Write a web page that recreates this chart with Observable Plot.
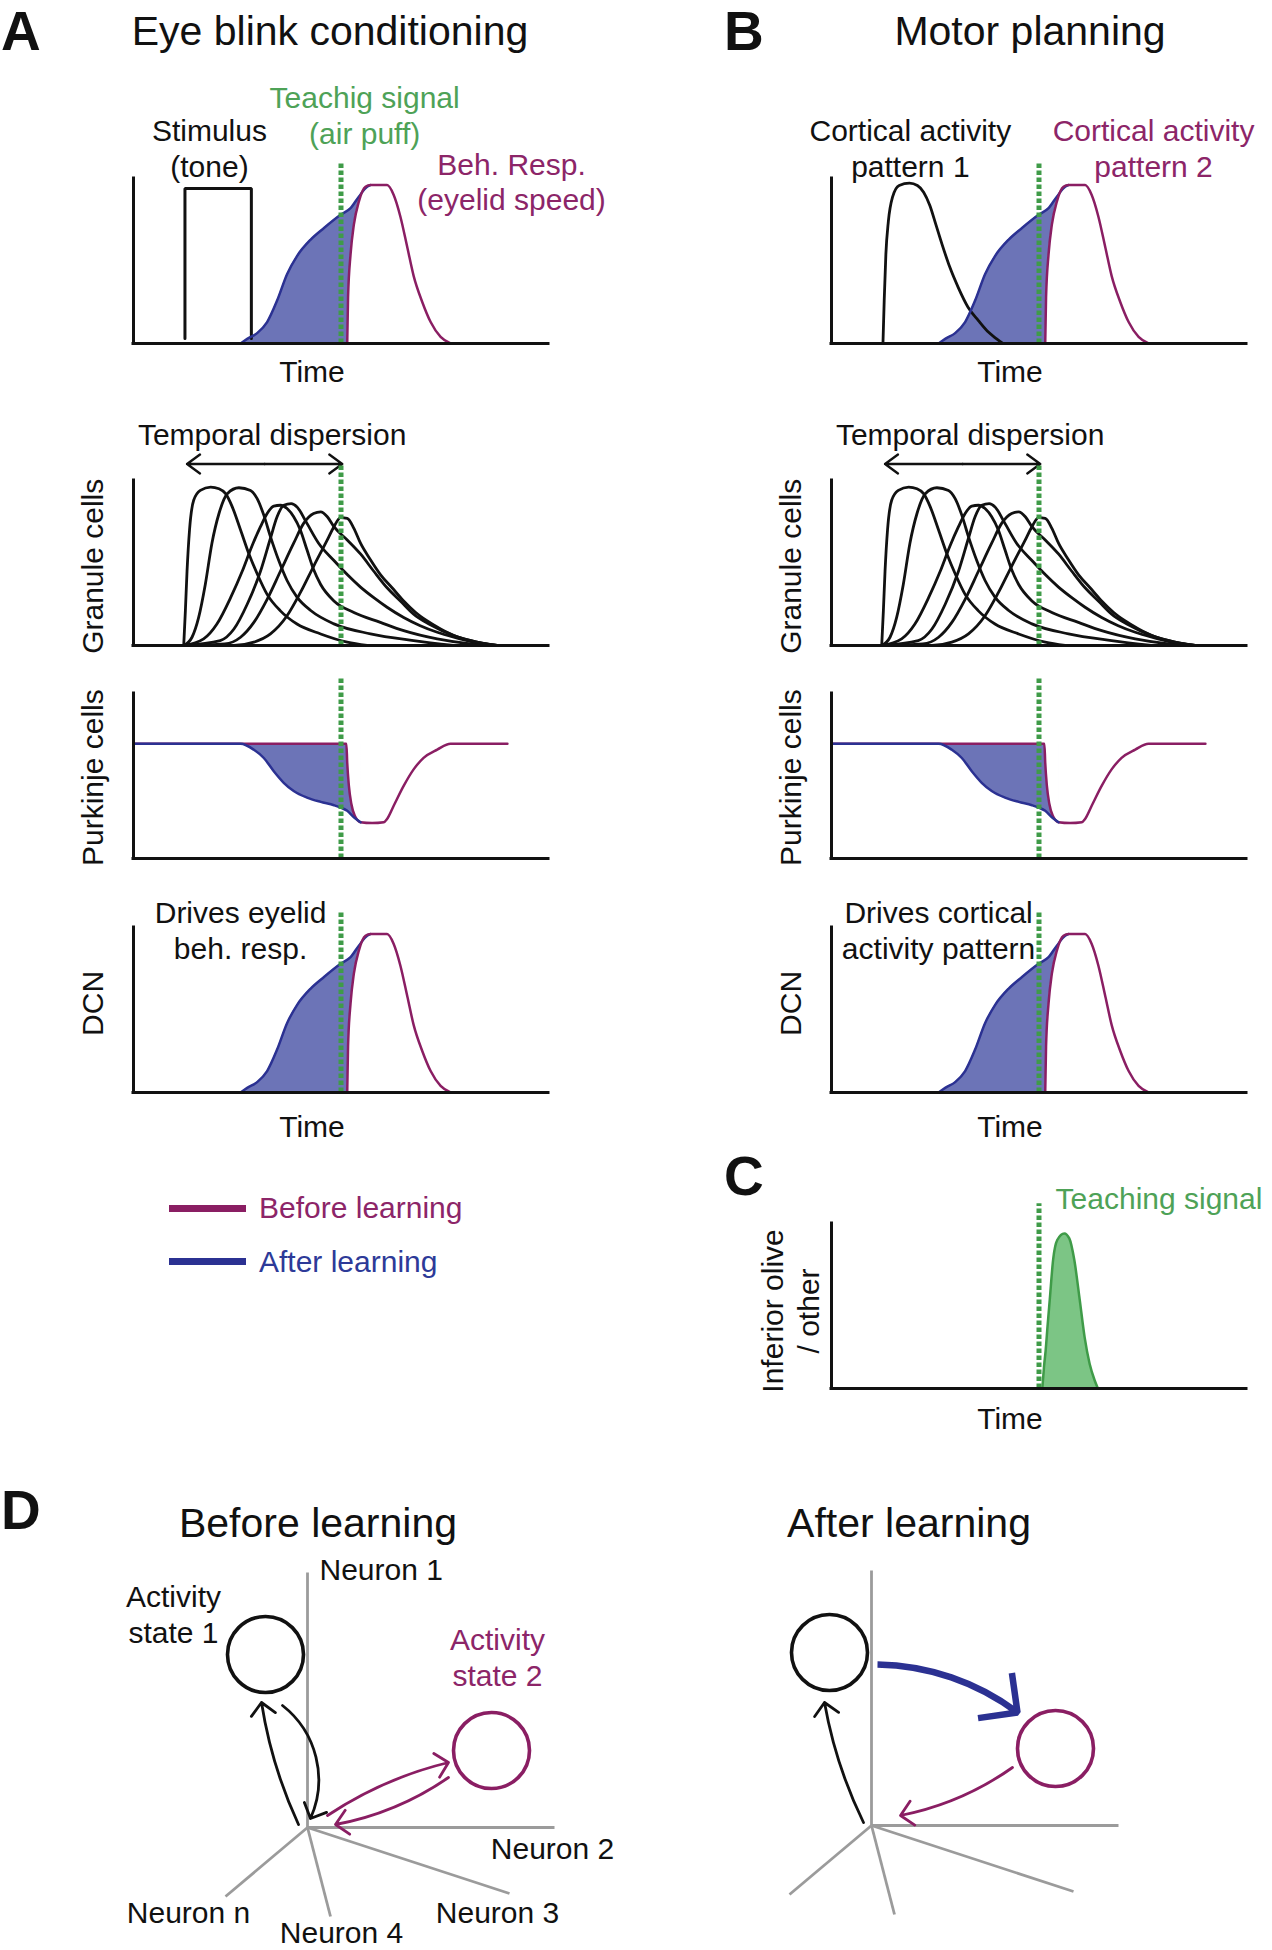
<!DOCTYPE html>
<html><head><meta charset="utf-8">
<script src="https://cdn.jsdelivr.net/npm/d3@7"></script>
<script src="https://cdn.jsdelivr.net/npm/@observablehq/plot@0.6"></script>
<style>
html,body{margin:0;padding:0;background:#fff;}
#page{position:relative;width:1272px;height:1950px;overflow:hidden;background:#fff;font-family:"Liberation Sans",Arial,Helvetica,sans-serif;color:#111;}
.abs{position:absolute;white-space:nowrap;line-height:1;}
</style></head>
<body><div id="page"></div>
<script>
// ---------------- data (time in % of the trial, activity 0..1) ----------------
const teachingTime = 50;
const stimulusTone = [[12.4,0.03],[12.4,0.94],[28.4,0.94],[28.4,0.03]];
const responseAfter = [[25.8,0],[27.4,0.028],[29.8,0.063],[32.2,0.13],[34.6,0.26],[37.0,0.42],[39.4,0.53],[42.7,0.63],[45.9,0.70],[49.9,0.78],[52.3,0.82],[54.3,0.89],[56.3,0.95],[57.1,0.96]];
const responseBefore = [[51.5,0],[51.7,0.28],[52.3,0.54],[53.1,0.72],[54.3,0.86],[55.9,0.95],[57.1,0.96],[61.1,0.96],[62.7,0.90],[64.3,0.77],[66.0,0.58],[67.5,0.41],[69.6,0.25],[71.6,0.13],[74.0,0.04],[76.4,0]];
const corticalPattern1 = [[12.4,0],[12.7,0.26],[13.1,0.54],[13.7,0.74],[14.7,0.887],[16.3,0.958],[18.8,0.972],[20.7,0.958],[22.2,0.917],[23.7,0.836],[25.1,0.725],[26.6,0.604],[28.5,0.463],[30.5,0.342],[32.9,0.22],[35.4,0.139],[37.8,0.069],[39.8,0.028],[41.3,0]];
const granule1 = [[12.1,0],[12.5,0.21],[12.9,0.45],[13.5,0.70],[14.5,0.88],[16.1,0.94],[18.6,0.96],[20.6,0.95],[22.2,0.92],[23.8,0.84],[25.8,0.70],[27.8,0.556],[29.8,0.435],[32.2,0.31],[35.4,0.21],[39.4,0.13],[45.1,0.07],[51.5,0.02],[56.3,0]];
const granule2 = [[12.1,0],[14.1,0.05],[15.7,0.17],[17.3,0.37],[18.9,0.62],[20.6,0.80],[22.6,0.92],[25.4,0.956],[28.2,0.94],[29.8,0.89],[31.4,0.79],[33.0,0.66],[35.0,0.515],[37.0,0.394],[39.4,0.293],[42.7,0.212],[48.3,0.131],[57.1,0.071],[67.5,0.03],[77.2,0]];
const granule3 = [[12.1,0],[16.9,0.04],[20.1,0.13],[23.4,0.29],[26.2,0.45],[28.5,0.60],[30.6,0.72],[32.2,0.80],[33.8,0.845],[35.4,0.85],[37.0,0.83],[38.6,0.78],[40.2,0.70],[41.8,0.58],[43.4,0.46],[45.1,0.37],[48.3,0.27],[53.1,0.20],[59.5,0.14],[65.1,0.09],[73.2,0.04],[81.2,0.01],[87.6,0]];
const granule4 = [[12.1,0],[20.9,0.03],[24.2,0.10],[27.4,0.25],[30.6,0.45],[33.0,0.65],[34.6,0.78],[36.2,0.85],[38.0,0.86],[39.4,0.84],[41.8,0.74],[44.6,0.62],[48.3,0.515],[51.5,0.43],[54.7,0.354],[57.9,0.29],[61.1,0.232],[65.1,0.17],[69.1,0.12],[73.2,0.08],[77.2,0.05],[82.0,0.02],[87.6,0]];
const granule5 = [[12.1,0],[22.0,0.01],[25.8,0.05],[29.0,0.14],[32.2,0.28],[35.4,0.45],[38.6,0.62],[41.0,0.74],[43.4,0.80],[45.1,0.81],[46.7,0.78],[48.3,0.72],[51.5,0.64],[54.7,0.555],[57.9,0.45],[61.1,0.35],[64.3,0.27],[67.5,0.19],[71.2,0.13],[77.2,0.06],[82.0,0.025],[87.6,0]];
const granule6 = [[12.1,0],[24.2,0],[29.0,0.02],[33.0,0.07],[37.0,0.18],[40.2,0.32],[43.4,0.48],[46.7,0.64],[48.3,0.72],[49.9,0.775],[51.5,0.77],[53.1,0.71],[54.7,0.62],[57.1,0.52],[59.5,0.43],[62.3,0.35],[65.1,0.27],[68.0,0.20],[70.7,0.15],[74.0,0.10],[77.2,0.06],[82.0,0.025],[87.6,0]];
const granuleCells = [granule1, granule2, granule3, granule4, granule5, granule6];
const dispersionSpan = [12.9, 50.3];
const purkinjeLevel = 0.695;
const purkinjeBefore = [[0,0.695],[25.8,0.695],[51.3,0.695],[51.5,0.58],[51.9,0.44],[52.5,0.33],[53.3,0.26],[54.7,0.22],[57.5,0.215],[60.3,0.22],[61.1,0.24],[62.7,0.32],[65.1,0.44],[67.5,0.54],[69.9,0.61],[73.2,0.66],[76.4,0.695],[90.1,0.695]];
const purkinjeAfter = [[0,0.695],[25.8,0.695],[29.0,0.659],[31.4,0.609],[33.8,0.529],[36.2,0.459],[38.6,0.409],[41.8,0.369],[45.1,0.343],[48.3,0.323],[49.9,0.309],[51.5,0.289],[53.1,0.25],[54.7,0.22]];
const teachingSignal = [[50.8,0],[51.2,0.13],[51.6,0.23],[52.1,0.39],[52.6,0.54],[53.4,0.78],[54.4,0.90],[56.1,0.94],[57.3,0.91],[58.5,0.78],[59.8,0.54],[61.0,0.31],[62.2,0.15],[63.4,0.05],[64.2,0]];

// state space (panel D)
const neuronAxes = [
  {label: "Neuron 1", x: 0, y: 255},
  {label: "Neuron 2", x: 247, y: 0},
  {label: "Neuron 3", x: 202, y: -66},
  {label: "Neuron 4", x: 23, y: -89},
  {label: "Neuron n", x: -82, y: -69}
];
const activityStates = [
  {label: "Activity\nstate 1", x: -42, y: 173, kind: "state1"},
  {label: "Activity\nstate 2", x: 184, y: 77, kind: "state2"}
];
const transitionsBefore = [
  {x1: -9, y1: 3, x2: -46, y2: 125, bend: 8, kind: "state1"},
  {x1: -25, y1: 122, x2: 3, y2: 9, bend: 38, kind: "state1"},
  {x1: 20, y1: 12, x2: 141, y2: 65, bend: 10, kind: "state2"},
  {x1: 141, y1: 50, x2: 28, y2: 3, bend: 12, kind: "state2"}
];
const transitionsAfter = [
  {x1: 6, y1: 161, x2: 146, y2: 113, bend: 18, kind: "learned"},
  {x1: -8, y1: 3, x2: -47, y2: 123, bend: 8, kind: "state1"},
  {x1: 141, y1: 58, x2: 29, y2: 10, bend: 12, kind: "state2"}
];

// ---------------- rendering ----------------
const page = document.getElementById("page");
const FONT = "'Liberation Sans', Arial, Helvetica, sans-serif";
const C = {ink: "#111111", purple: "#8a1e63", purpleText: "#8c2568", blue: "#2b3192", blueText: "#2d3a98",
  blueFill: "#6c74b7", green: "#3f9b48", greenText: "#4ea257", greenFill: "#7cc585", gray: "#9b9b9b"};
const kindColor = {state1: C.ink, state2: C.purple, learned: C.blue};
const STYLE = {fontFamily: FONT, overflow: "visible", maxWidth: "none", background: "transparent"};
const XY = {x: d => d[0], y: d => d[1]};

function place(node, left, top) {
  const d = document.createElement("div");
  d.className = "abs";
  d.style.left = left + "px";
  d.style.top = top + "px";
  d.appendChild(node);
  page.appendChild(d);
}
function htmlText(str, x, baseline, size, opts = {}) {
  const d = document.createElement("div");
  d.className = "abs";
  d.textContent = str;
  d.style.fontSize = size + "px";
  d.style.left = x + "px";
  d.style.top = (baseline - 0.8465 * size) + "px";
  if (opts.bold) d.style.fontWeight = "bold";
  if (opts.color) d.style.color = opts.color;
  if (opts.center) d.style.transform = "translateX(-50%)";
  page.appendChild(d);
}

const FW = 415, FH = 165, ML = 80, MR = 110, MT = 130, MB = 60;
function timeChart(left, top, marks) {
  const svg = Plot.plot({
    width: FW + ML + MR, height: FH + MT + MB,
    marginLeft: ML, marginRight: MR, marginTop: MT, marginBottom: MB,
    x: {domain: [0, 100], axis: null},
    y: {domain: [0, 1], axis: null},
    style: STYLE,
    marks
  });
  place(svg, left - ML, top - MT);
}
const axesL = () => [
  Plot.ruleY([0], {x1: 0, x2: 100, stroke: C.ink, strokeWidth: 3, strokeLinecap: "square"}),
  Plot.ruleX([0], {y1: 0, y2: 1, stroke: C.ink, strokeWidth: 3, strokeLinecap: "square"})
];
const teach = (top = 1.1) => Plot.ruleX([teachingTime], {y1: 0, y2: top, stroke: C.green, strokeWidth: 5, strokeDasharray: "4.5,2.5"});
const ylab = (s, y = 0.5) => Plot.text([s], {x: -10.2, y, text: d => d, rotate: -90, fontSize: 30, fill: C.ink, lineHeight: 1.2});
const note = (s, x, y, fill = C.ink, extra = {}) => Plot.text([s], {x, y, text: d => d, fontSize: 30, lineHeight: 1.2, fill, ...extra});
const timeLabel = (y = -0.165) => note("Time", 43, y);

function responseMarks(extraBefore = []) {
  return [
    Plot.areaY(responseAfter, {...XY, fill: C.blueFill, curve: "monotone-x"}),
    Plot.areaY(responseBefore, {...XY, fill: "white", curve: "monotone-x"}),
    ...extraBefore,
    Plot.line(responseAfter, {...XY, stroke: C.blue, strokeWidth: 2.5, curve: "monotone-x"}),
    Plot.line(responseBefore, {...XY, stroke: C.purple, strokeWidth: 2.5, curve: "monotone-x"})
  ];
}
function granuleMarks(label) {
  const mid = (dispersionSpan[0] + dispersionSpan[1]) / 2;
  return [
    ...granuleCells.map(g => Plot.line(g, {...XY, stroke: C.ink, strokeWidth: 2.8, curve: "monotone-x"})),
    Plot.arrow([0, 1], {x1: mid, y1: 1.1, x2: i => dispersionSpan[i], y2: 1.1, stroke: C.ink, strokeWidth: 2.4, headLength: 10, headAngle: 72}),
    note("Temporal dispersion", 33.4, 1.285),
    teach(), ...axesL(), ylab(label, 0.48)
  ];
}
function purkinjeMarks() {
  return [
    Plot.areaY(purkinjeAfter.filter(d => d[0] >= 25.8), {x: d => d[0], y1: d => d[1], y2: purkinjeLevel, fill: C.blueFill, curve: "monotone-x"}),
    Plot.areaY(purkinjeBefore.filter(d => d[0] >= 51.3 && d[0] <= 54.7), {x: d => d[0], y1: d => d[1], y2: purkinjeLevel + 0.02, fill: "white", curve: "monotone-x"}),
    Plot.line(purkinjeBefore, {...XY, stroke: C.purple, strokeWidth: 2.5, curve: "monotone-x"}),
    Plot.line(purkinjeAfter, {...XY, stroke: C.blue, strokeWidth: 2.5, curve: "monotone-x"}),
    teach(), ...axesL(), ylab("Purkinje cells", 0.49)
  ];
}

const AX = 133, BX = 831;
const ROW = {top: 178, granule: 480, purkinje: 693, dcn: 927};

// Panel A
timeChart(AX, ROW.top, [
  ...responseMarks([Plot.line(stimulusTone, {...XY, stroke: C.ink, strokeWidth: 3, strokeLinejoin: "miter"})]),
  teach(), ...axesL(),
  note("Stimulus\n(tone)", 18.3, 1.19),
  note("Teachig signal\n(air puff)", 55.7, 1.39, C.greenText),
  note("Beh. Resp.\n(eyelid speed)", 91.1, 0.985, C.purpleText),
  timeLabel()
]);
timeChart(AX, ROW.granule, granuleMarks("Granule cells"));
timeChart(AX, ROW.purkinje, purkinjeMarks());
timeChart(AX, ROW.dcn, [
  ...responseMarks(), teach(), ...axesL(),
  note("Drives eyelid\nbeh. resp.", 25.8, 0.99),
  ylab("DCN", 0.54), timeLabel(-0.2)
]);

// Panel B
timeChart(BX, ROW.top, [
  ...responseMarks([Plot.line(corticalPattern1, {...XY, stroke: C.ink, strokeWidth: 2.8, curve: "monotone-x"})]),
  teach(), ...axesL(),
  note("Cortical activity\npattern 1", 19.0, 1.19),
  note("Cortical activity\npattern 2", 77.6, 1.19, C.purpleText),
  timeLabel()
]);
timeChart(BX, ROW.granule, granuleMarks("Granule cells"));
timeChart(BX, ROW.purkinje, purkinjeMarks());
timeChart(BX, ROW.dcn, [
  ...responseMarks(), teach(), ...axesL(),
  note("Drives cortical\nactivity pattern", 25.8, 0.99),
  ylab("DCN", 0.54), timeLabel(-0.2)
]);

// Panel C
timeChart(BX, 1223, [
  Plot.areaY(teachingSignal, {...XY, fill: C.greenFill, curve: "monotone-x"}),
  Plot.line(teachingSignal, {...XY, stroke: C.green, strokeWidth: 2.5, curve: "monotone-x"}),
  teach(1.12), ...axesL(),
  note("Teaching signal", 54, 1.16, C.greenText, {textAnchor: "start"}),
  ylab("Inferior olive\n/ other", 0.47),
  timeLabel(-0.176)
]);

// Panel D
function stateSpace(ox, oy, transitions, withLabels) {
  const labelOffset = {"Neuron 1": [12, 2, "start"], "Neuron 2": [-2, -22, "middle"], "Neuron 3": [-12, -20, "middle"],
    "Neuron 4": [11, -17, "middle"], "Neuron n": [-37, -17, "middle"]};
  const stateOffset = {state1: [-92, 41], state2: [6, 94]};
  const marks = [
    Plot.link(neuronAxes, {x1: 0, y1: 0, x2: "x", y2: "y", stroke: C.gray, strokeWidth: 2.8}),
    ...activityStates.map(s => Plot.dot([s], {x: "x", y: "y", r: 38, stroke: kindColor[s.kind], strokeWidth: 3.6, fill: "none"})),
    ...transitions.map(t => Plot.arrow([t], {x1: "x1", y1: "y1", x2: "x2", y2: "y2", bend: t.bend,
      stroke: kindColor[t.kind], strokeWidth: t.kind === "learned" ? 6.5 : 2.8,
      headLength: 9.2, headAngle: 90, strokeLinecap: t.kind === "learned" ? "butt" : "round"}))
  ];
  if (withLabels) {
    marks.push(...neuronAxes.map(a => {
      const [dx, dy, anchor] = labelOffset[a.label];
      return Plot.text([a], {x: d => d.x + dx, y: d => d.y + dy, text: "label", fontSize: 30, fill: C.ink, textAnchor: anchor});
    }));
    marks.push(...activityStates.map(s => {
      const [dx, dy] = stateOffset[s.kind];
      return Plot.text([s], {x: d => d.x + dx, y: d => d.y + dy, text: "label", fontSize: 30, lineHeight: 1.2,
        fill: s.kind === "state2" ? C.purpleText : C.ink});
    }));
  }
  const svg = Plot.plot({width: 520, height: 420, margin: 0,
    x: {domain: [-200, 320], axis: null}, y: {domain: [-130, 290], axis: null},
    style: STYLE, marks});
  place(svg, ox - 200, oy - 290);
}
stateSpace(307, 1827, transitionsBefore, true);
stateSpace(871, 1825, transitionsAfter, false);

// Titles, panel letters, legend
htmlText("A", 1, 51, 55, {bold: true});
htmlText("B", 724, 51, 55, {bold: true});
htmlText("C", 724, 1196, 55, {bold: true});
htmlText("D", 1, 1530, 55, {bold: true});
htmlText("Eye blink conditioning", 330, 45.5, 41, {center: true});
htmlText("Motor planning", 1030, 45.5, 41, {center: true});
htmlText("Before learning", 318, 1538, 41, {center: true});
htmlText("After learning", 909, 1538, 41, {center: true});

function legendLine(color, y) {
  const d = document.createElement("div");
  d.className = "abs";
  Object.assign(d.style, {left: "169px", top: (y - 3.5) + "px", width: "77px", height: "7px", background: color});
  page.appendChild(d);
}
legendLine(C.purple, 1208);
legendLine(C.blue, 1261.5);
htmlText("Before learning", 259, 1218.5, 30, {color: C.purpleText});
htmlText("After learning", 259, 1272, 30, {color: C.blueText});
</script>
</body></html>
